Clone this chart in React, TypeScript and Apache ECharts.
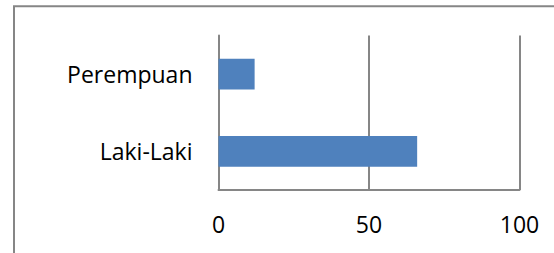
import React, { useEffect, useRef } from "react";
import * as echarts from "echarts";

const categories = ["Laki-Laki", "Perempuan"];
const values = [66, 12];
const axisMin = 0;
const axisMax = 100;
const axisInterval = 50;

export default function App() {
  const ref = useRef<HTMLDivElement>(null);
  useEffect(() => {
    if (!ref.current) return;
    const chart = echarts.init(ref.current, null, { renderer: "svg" });
    const grey = "#868686";
    const font = "'Open Sans', sans-serif";
    chart.setOption({
      animation: false,
      backgroundColor: "#ffffff",
      graphic: [
        {
          type: "rect",
          shape: { x: 14, y: 6.3, width: 700, height: 400 },
          style: { fill: "none", stroke: grey, lineWidth: 2 },
          silent: true,
        },
      ],
      grid: { left: 218.5, right: 34.5, top: 35.5, bottom: 63, containLabel: false },
      xAxis: {
        type: "value",
        min: axisMin,
        max: axisMax,
        interval: axisInterval,
        axisLine: { show: true, lineStyle: { color: grey, width: 2 } },
        axisTick: { show: false },
        splitLine: { show: true, lineStyle: { color: grey, width: 2 } },
        axisLabel: { color: "#000", fontSize: 23, fontFamily: font, margin: 22.5 },
      },
      yAxis: {
        type: "category",
        data: categories,
        axisLine: { show: true, lineStyle: { color: grey, width: 2 } },
        axisTick: { show: false },
        axisLabel: { color: "#000", fontSize: 23, fontFamily: font, margin: 26 },
      },
      series: [
        {
          type: "bar",
          data: values,
          barCategoryGap: "60%",
          itemStyle: { color: "#4F81BD" },
        },
      ],
    });
    return () => chart.dispose();
  }, []);
  return (
    <div
      ref={ref}
      style={{ position: "fixed", left: 0, top: 0, width: 554, height: 253 }}
    />
  );
}
